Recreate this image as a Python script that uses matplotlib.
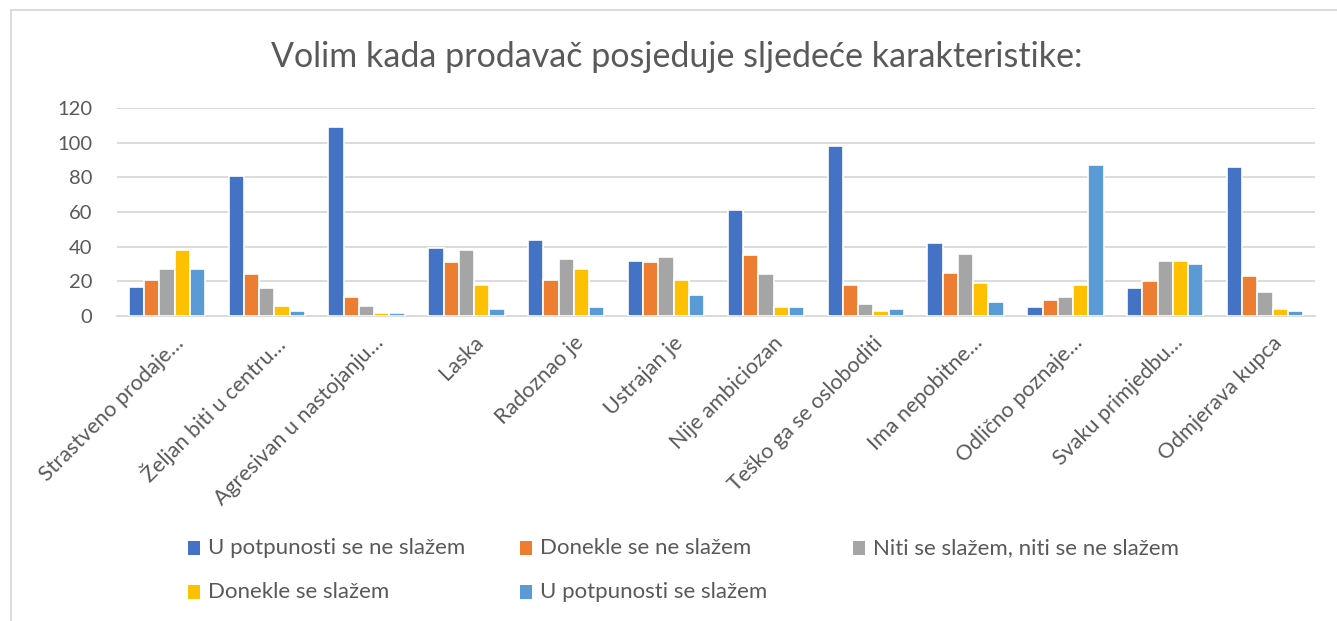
import numpy as np
import matplotlib.pyplot as plt
import matplotlib.transforms as mtransforms
from matplotlib.lines import Line2D
from matplotlib.patches import Rectangle

plt.rcParams['font.family'] = ['Lato', 'DejaVu Sans']

categories = ["Strastveno prodaje…", "Željan biti u centru…", "Agresivan u nastojanju…",
              "Laska", "Radoznao je", "Ustrajan je", "Nije ambiciozan",
              "Teško ga se osloboditi", "Ima nepobitne…", "Odlično poznaje…",
              "Svaku primjedbu…", "Odmjerava kupca"]

series_names = ["U potpunosti se ne slažem", "Donekle se ne slažem",
                "Niti se slažem, niti se ne slažem", "Donekle se slažem",
                "U potpunosti se slažem"]

ne_slazem = [17, 81, 109, 39, 44, 32, 61, 98, 42, 5, 16, 86]
donekle_ne = [21, 24, 11, 31, 21, 31, 35, 18, 25, 9, 20, 23]
niti = [27, 16, 6, 38, 33, 34, 24, 7, 36, 11, 32, 14]
donekle_da = [38, 6, 2, 18, 27, 21, 5, 3, 19, 18, 32, 4]
slazem = [27, 3, 2, 4, 5, 12, 5, 4, 8, 87, 30, 3]

colors = ["#4472C4", "#ED7D31", "#A5A5A5", "#FFC000", "#5B9BD5"]
text_col = "#595959"
W, H = 1337, 621

fig = plt.figure(figsize=(W / 100, H / 100), dpi=100)
ax = fig.add_axes([117 / W, 1 - 316 / H, 1198 / W, 208 / H])

x = np.arange(len(categories))
w = 0.153
all_series = [ne_slazem, donekle_ne, niti, donekle_da, slazem]
for i, (vals, c) in enumerate(zip(all_series, colors)):
    ax.bar(x + (i - 2) * w, vals, width=w, color=c, edgecolor="white", linewidth=1.2, zorder=3)

ax.set_xlim(-0.5, len(categories) - 0.5)
ax.set_ylim(0, 120)
ax.set_yticks(range(0, 121, 20))
ax.yaxis.grid(True, color="#D9D9D9", linewidth=1.3, zorder=0)
ax.set_axisbelow(True)
for s in ["top", "right", "left"]:
    ax.spines[s].set_visible(False)
ax.spines["bottom"].set_color("#D9D9D9")
ax.spines["bottom"].set_linewidth(1.3)
ax.tick_params(axis="both", length=0, labelcolor=text_col)
ax.tick_params(axis="y", pad=18, labelsize=14.5)
ax.tick_params(axis="x", pad=12, labelsize=15.5)
ax.set_xticks(x)
ax.set_xticklabels(categories, rotation=45, ha="right", rotation_mode="anchor")
# nudge the slanted category labels a little to the right
shift = mtransforms.ScaledTranslation(7 / 100, 0, fig.dpi_scale_trans)
for lbl in ax.get_xticklabels():
    lbl.set_transform(lbl.get_transform() + shift)

fig.text(677 / W, 1 - 57 / H, "Volim kada prodavač posjeduje sljedeće karakteristike:",
         ha="center", va="center", fontsize=24.5, color=text_col)

# legend laid out in rows of three
leg_x = [188, 520, 853]
leg_y = [548, 592]
for k, (name, c) in enumerate(zip(series_names, colors)):
    px = leg_x[k % 3]
    py = leg_y[k // 3]
    fig.add_artist(Rectangle((px / W, 1 - (py + 7) / H), 12 / W, 14 / H,
                             transform=fig.transFigure, facecolor=c, edgecolor="none"))
    fig.text((px + 20) / W, 1 - py / H, name, ha="left", va="center",
             fontsize=16, color=text_col)

# outer chart frame (top and left edges)
fig.add_artist(Line2D([11 / W, 1.0], [1 - 10 / H, 1 - 10 / H],
                      transform=fig.transFigure, color="#D9D9D9", linewidth=1.3))
fig.add_artist(Line2D([11 / W, 11 / W], [0, 1 - 10 / H],
                      transform=fig.transFigure, color="#D9D9D9", linewidth=1.3))

fig.savefig("out.png", dpi=100, facecolor="white")
